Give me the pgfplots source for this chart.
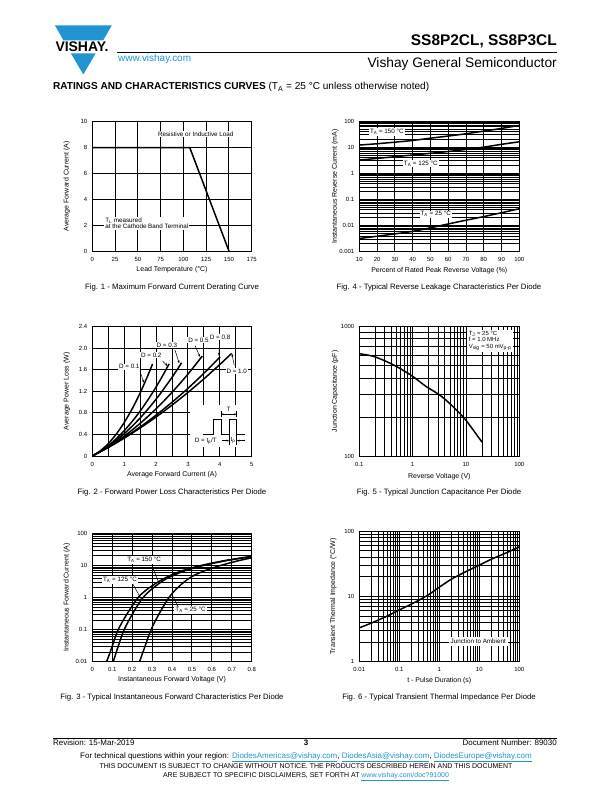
\documentclass[border=0pt]{standalone}
\usepackage{fontspec}
\setmainfont{Liberation Sans}
\usepackage{pgfplots}
\pgfplotsset{compat=1.18}
\usetikzlibrary{arrows.meta}
\definecolor{vblue}{RGB}{35,148,210}
\newcommand{\lk}[1]{\textcolor{vblue}{\underline{#1}}}
\newcommand{\lblfont}{\fontsize{7}{8}\selectfont}
\pgfplotsset{
  ds/.style={
    scale only axis, anchor=south west,
    axis line style={line width=0.9pt},
    xmajorgrids, ymajorgrids,
    major grid style={line width=0.9pt,black},
    minor grid style={line width=0.7pt,black},
    major tick length=0pt, minor tick length=0pt,
    tick style={draw=none},
    ticklabel style={font=\fontsize{6}{7}\selectfont},
    xticklabel shift=2.5bp,
    yticklabel shift=1.5bp,
    every axis x label/.style={at={(axis description cs:0.5,-0.142)},anchor=center,font=\lblfont},
    every axis y label/.style={at={(axis description cs:-0.16,0.5)},anchor=center,rotate=90,font=\lblfont},
  },
  crv/.style={line width=1.5pt, black, no marks, smooth},
}
\tikzset{lbl/.style={fill=white, inner sep=1pt, font=\fontsize{6.3}{6.8}\selectfont},
  ldr/.style={line width=0.5pt,-{Stealth[length=3bp,width=2.2bp]}},
  figcap/.style={anchor=base, inner sep=0pt, font=\fontsize{7.8}{9}\selectfont}}
\begin{document}
\begin{tikzpicture}
\fill[white] (0,0) rectangle (612bp,792bp);
\path[use as bounding box] (0,0) rectangle (612bp,792bp);
% ---------- header ----------
\fill[vblue] (55bp,766.5bp) -- (111.7bp,766.5bp) -- (103.2bp,751.7bp) -- (63.4bp,751.7bp) -- cycle;
\fill[vblue] (71bp,738.5bp) -- (95.6bp,738.5bp) -- (83.3bp,717.5bp) -- cycle;
\node[font=\fontsize{14}{14}\bfseries\selectfont, inner sep=0pt] at (82bp,745.5bp) {VISHAY.};
\draw[line width=0.8pt] (117bp,739.7bp) -- (557bp,739.7bp);
\node[anchor=base west, inner sep=0pt, font=\fontsize{10}{11}\selectfont, text=vblue] at (118bp,730bp) {www.vishay.com};
\node[anchor=base east, inner sep=0pt, font=\fontsize{15.5}{16}\bfseries\selectfont] at (557bp,746bp) {SS8P2CL, SS8P3CL};
\node[anchor=base east, inner sep=0pt, font=\fontsize{13.8}{15}\selectfont] at (557bp,724bp) {Vishay General Semiconductor};
\node[anchor=base west, inner sep=0pt, font=\fontsize{10.1}{11}\selectfont] at (53bp,702bp) {\textbf{RATINGS AND CHARACTERISTICS CURVES} (T\textsubscript{A} = 25 °C unless otherwise noted)};
% ---------- footer ----------
\draw[line width=0.8pt] (53bp,54bp) -- (557bp,54bp);
\node[anchor=base west, inner sep=0pt, font=\fontsize{8}{9}\selectfont] at (53bp,46bp) {Revision: 15-Mar-2019};
\node[anchor=base, inner sep=0pt, font=\fontsize{8}{9}\bfseries\selectfont] at (306bp,46bp) {3};
\node[anchor=base east, inner sep=0pt, font=\fontsize{8}{9}\selectfont] at (557bp,46bp) {Document Number: 89030};
\node[anchor=base, inner sep=0pt, font=\fontsize{8}{9}\selectfont] at (306bp,34bp) {For technical questions within your region: \lk{DiodesAmericas@vishay.com}, \lk{DiodesAsia@vishay.com}, \lk{DiodesEurope@vishay.com}};
\node[anchor=base, inner sep=0pt, font=\fontsize{7}{8}\selectfont] at (306bp,24bp) {THIS DOCUMENT IS SUBJECT TO CHANGE WITHOUT NOTICE. THE PRODUCTS DESCRIBED HEREIN AND THIS DOCUMENT};
\node[anchor=base, inner sep=0pt, font=\fontsize{7}{8}\selectfont] at (306bp,15bp) {ARE SUBJECT TO SPECIFIC DISCLAIMERS, SET FORTH AT \lk{www.vishay.com/doc?91000}};
% ---------- captions ----------
\node[figcap] at (172bp,502bp) {Fig. 1 -  Maximum Forward Current Derating Curve};
\node[figcap] at (439bp,502bp) {Fig. 4 - Typical Reverse Leakage Characteristics Per Diode};
\node[figcap] at (172bp,297bp) {Fig. 2 - Forward Power Loss Characteristics Per Diode};
\node[figcap] at (439bp,297bp) {Fig. 5 - Typical Junction Capacitance Per Diode};
\node[figcap] at (172bp,92bp) {Fig. 3 - Typical Instantaneous Forward Characteristics Per Diode};
\node[figcap] at (439bp,92bp) {Fig. 6 - Typical Transient Thermal Impedance Per Diode};

% ---------- Fig 1 ----------
\begin{axis}[ds, at={(92.3bp,541bp)}, width=159.4bp, height=129.3bp,
  xmin=0, xmax=175, ymin=0, ymax=10,
  xtick={0,25,50,75,100,125,150,175}, xticklabels={0,25,50,75,100,125,150,175},
  ytick={0,2,4,6,8,10}, yticklabels={0,2,4,6,8,10},
  xlabel={Lead Temperature (°C)}, ylabel={Average Forward Current (A)}]
\addplot[line width=1.5pt, black, no marks] coordinates {(0,8) (107,8) (150,0)};
\node[lbl] at (axis cs:113.5,9.05) {Resistive or Inductive Load};
\node[lbl, align=left, anchor=west] at (axis cs:13,2.15) {T\textsubscript{L} measured\\at the Cathode Band Terminal};
\end{axis}

% ---------- Fig 4 ----------
\begin{axis}[ds, at={(359.3bp,540.3bp)}, width=160bp, height=130.7bp,
  ymode=log, xmin=10, xmax=100, ymin=0.001, ymax=100,
  every axis y label/.style={at={(axis description cs:-0.152,0.5)},anchor=center,rotate=90,font=\lblfont},
  xtick={10,20,30,40,50,60,70,80,90,100}, xticklabels={10,20,30,40,50,60,70,80,90,100},
  ytick={0.001,0.01,0.1,1,10,100}, yticklabels={0.001,0.01,0.1,1,10,100},
  minor ytick={0.002,0.003,0.004,0.005,0.006,0.007,0.008,0.009,0.02,0.03,0.04,0.05,0.06,0.07,0.08,0.09,0.2,0.3,0.4,0.5,0.6,0.7,0.8,0.9,2,3,4,5,6,7,8,9,20,30,40,50,60,70,80,90},
  yminorgrids,
  xlabel={Percent of Rated Peak Reverse Voltage (\%)}, ylabel={Instantaneous Reverse Current (mA)}]
\addplot[crv] coordinates {(10,12) (20,13.5) (30,15.5) (40,18) (50,22) (60,26.5) (70,32.5) (80,41) (90,52) (100,68)};
\addplot[crv] coordinates {(10,3.2) (20,3.7) (30,4.3) (40,5.0) (50,5.8) (60,6.8) (70,8.2) (80,10) (90,12.8) (100,16)};
\addplot[crv] coordinates {(10,0.0032) (20,0.0039) (30,0.0048) (40,0.006) (50,0.0082) (60,0.0115) (70,0.016) (80,0.022) (90,0.031) (100,0.044)};
\node[lbl] at (axis cs:25.5,38) {T\textsubscript{A} = 150 °C};
\node[lbl] at (axis cs:44.6,2.4) {T\textsubscript{A} = 125 °C};
\node[lbl] at (axis cs:53,0.027) {T\textsubscript{A} = 25 °C};
\end{axis}

% ---------- Fig 2 ----------
\begin{axis}[ds, at={(92.3bp,336bp)}, width=159.4bp, height=129.3bp,
  xmin=0, xmax=5, ymin=0, ymax=2.4,
  xtick={0,1,2,3,4,5}, xticklabels={0,1,2,3,4,5},
  minor xtick={0.5,1.5,2.5,3.5,4.5}, xminorgrids,
  minor grid style={line width=0.9pt,black},
  ytick={0,0.4,0.8,1.2,1.6,2.0,2.4}, yticklabels={0,0.4,0.8,1.2,1.6,2.0,2.4},
  xlabel={Average Forward Current (A)}, ylabel={Average Power Loss (W)}]
\addplot[crv] coordinates {(0,0) (0.25,0.095) (0.5,0.23) (0.75,0.405) (1,0.62) (1.25,0.875) (1.5,1.17) (1.75,1.505) (1.89,1.71)};
\addplot[crv] coordinates {(0,0) (0.25,0.086) (0.5,0.193) (0.75,0.321) (1,0.47) (1.25,0.641) (1.5,0.833) (1.75,1.046) (2,1.28) (2.2,1.483) (2.41,1.71)};
\addplot[crv] coordinates {(0,0) (0.5,0.178) (1,0.414) (1.5,0.705) (2,1.054) (2.5,1.459) (2.8,1.73)};
\addplot[crv] coordinates {(0,0) (0.5,0.167) (1,0.369) (1.5,0.605) (2,0.876) (2.5,1.181) (3,1.52) (3.45,1.855)};
\addplot[crv] coordinates {(0,0) (0.5,0.16) (1,0.34) (1.5,0.539) (2,0.758) (2.5,0.998) (3,1.256) (3.5,1.535) (4.01,1.84)};
\addplot[crv] coordinates {(0,0) (0.5,0.158) (1,0.331) (1.5,0.52) (2,0.724) (2.5,0.944) (3,1.18) (3.5,1.431) (4,1.698) (4.37,1.905)};
\fill[white] (axis cs:3.05,0.17) rectangle (axis cs:4.97,0.95);
\node[lbl] at (axis cs:1.16,1.657) {D = 0.1};
\draw[ldr] (axis cs:1.50,1.565) -- (axis cs:1.62,1.36);
\node[lbl] at (axis cs:1.85,1.87) {D = 0.2};
\draw[ldr] (axis cs:2.21,1.76) -- (axis cs:2.36,1.67);
\node[lbl] at (axis cs:2.34,2.06) {D = 0.3};
\draw[ldr] (axis cs:2.59,1.97) -- (axis cs:2.73,1.72);
\node[lbl] at (axis cs:3.33,2.15) {D = 0.5};
\draw[ldr] (axis cs:3.22,2.05) -- (axis cs:3.38,1.84);
\node[lbl] at (axis cs:4.01,2.21) {D = 0.8};
\draw[ldr] (axis cs:3.99,2.12) -- (axis cs:3.97,1.86);
\node[lbl] at (axis cs:4.53,1.577) {D = 1.0};
\draw[ldr] (axis cs:4.45,1.69) -- (axis cs:4.38,1.90);
% pulse inset
\draw[line width=0.8pt] (axis cs:3.48,0.403) -- (axis cs:3.795,0.403) -- (axis cs:3.795,0.678) -- (axis cs:4.037,0.678) -- (axis cs:4.037,0.403) -- (axis cs:4.297,0.403) -- (axis cs:4.297,0.678) -- (axis cs:4.53,0.678) -- (axis cs:4.53,0.403) -- (axis cs:4.805,0.403);
\draw[line width=0.5pt] (axis cs:4.037,0.72) -- (axis cs:4.037,0.84);
\draw[line width=0.5pt] (axis cs:4.53,0.72) -- (axis cs:4.53,0.84);
\draw[line width=0.5pt,{Stealth[length=2.5bp,width=2bp]}-{Stealth[length=2.5bp,width=2bp]}] (axis cs:4.04,0.775) -- (axis cs:4.527,0.775);
\node[font=\fontsize{6.3}{7}\selectfont, inner sep=0pt] at (axis cs:4.28,0.875) {T};
\node[font=\fontsize{6.3}{7}\selectfont, inner sep=0pt] at (axis cs:3.56,0.284) {D = t\textsubscript{p}/T};
\draw[line width=0.5pt] (axis cs:4.297,0.40) -- (axis cs:4.297,0.2);
\draw[line width=0.5pt] (axis cs:4.53,0.40) -- (axis cs:4.53,0.2);
\draw[line width=0.5pt,-{Stealth[length=2.5bp,width=2bp]}] (axis cs:4.07,0.285) -- (axis cs:4.29,0.285);
\draw[line width=0.5pt,-{Stealth[length=2.5bp,width=2bp]}] (axis cs:4.79,0.285) -- (axis cs:4.537,0.285);
\node[font=\fontsize{6.3}{7}\selectfont, inner sep=0pt] at (axis cs:4.41,0.28) {t\textsubscript{p}};
\end{axis}

% ---------- Fig 5 ----------
\begin{axis}[ds, at={(359.3bp,335.3bp)}, width=160bp, height=130.7bp,
  xmode=log, ymode=log, xmin=0.1, xmax=100, ymin=100, ymax=1000,
  every axis y label/.style={at={(axis description cs:-0.152,0.5)},anchor=center,rotate=90,font=\lblfont},
  every axis x label/.style={at={(axis description cs:0.5,-0.153)},anchor=center,font=\lblfont},
  xtick={0.1,1,10,100}, xticklabels={0.1,1,10,100},
  ytick={100,1000}, yticklabels={100,1000},
  minor xtick={0.2,0.3,0.4,0.5,0.6,0.7,0.8,0.9,2,3,4,5,6,7,8,9,20,30,40,50,60,70,80,90},
  minor ytick={200,300,400,500,600,700,800,900},
  xminorgrids, yminorgrids,
  xlabel={Reverse Voltage (V)}, ylabel={Junction Capacitance (pF)}]
\addplot[crv] coordinates {(0.1,614) (0.178,588) (0.316,537) (0.56,477) (1,412) (1.78,345) (3.16,298) (4.87,257) (6.5,229) (10,190) (20,129)};
\node[lbl, align=left, anchor=north west, inner sep=1.5pt, font=\fontsize{6}{6.4}\selectfont] at (axis cs:10.5,940) {T\textsubscript{J} = 25 °C\\f = 1.0 MHz\\V\textsubscript{sig} = 50 mV\textsubscript{p-p}};
\end{axis}

% ---------- Fig 3 ----------
\begin{axis}[ds, at={(92.3bp,130.3bp)}, width=159.4bp, height=128.4bp,
  ymode=log, xmin=0, xmax=0.8, ymin=0.01, ymax=100,
  xtick={0,0.1,0.2,0.3,0.4,0.5,0.6,0.7,0.8}, xticklabels={0,0.1,0.2,0.3,0.4,0.5,0.6,0.7,0.8},
  ytick={0.01,0.1,1,10,100}, yticklabels={0.01,0.1,1,10,100},
  minor ytick={0.02,0.03,0.04,0.05,0.06,0.07,0.08,0.09,0.2,0.3,0.4,0.5,0.6,0.7,0.8,0.9,2,3,4,5,6,7,8,9,20,30,40,50,60,70,80,90},
  yminorgrids,
  xlabel={Instantaneous Forward Voltage (V)}, ylabel={Instantaneous Forward Current (A)}]
\addplot[crv] coordinates {(0.072,0.01) (0.10,0.03) (0.13,0.1) (0.18,0.35) (0.23,1.0) (0.27,1.7) (0.32,2.8) (0.37,4.2) (0.42,5.8) (0.47,7.4) (0.53,9.4) (0.6,11.8) (0.67,14.3) (0.74,16.8) (0.8,19)};
\addplot[crv] coordinates {(0.105,0.01) (0.13,0.03) (0.16,0.1) (0.21,0.38) (0.255,1.0) (0.29,1.65) (0.33,2.6) (0.37,3.8) (0.42,5.3) (0.47,7.0) (0.53,9.0) (0.6,11.4) (0.67,14) (0.74,16.5) (0.8,18.6)};
\addplot[crv] coordinates {(0.237,0.01) (0.26,0.025) (0.295,0.1) (0.34,0.35) (0.385,1.0) (0.42,1.8) (0.46,3.0) (0.5,4.5) (0.55,6.3) (0.6,8.2) (0.65,10.2) (0.7,12.4) (0.75,14.8) (0.8,17.2)};
\node[lbl] at (axis cs:0.26,14.7) {T\textsubscript{A} = 150 °C};
\node[lbl] at (axis cs:0.139,3.5) {T\textsubscript{A} = 125 °C};
\node[lbl] at (axis cs:0.493,0.407) {T\textsubscript{A} = 25 °C};
\draw[line width=0.5pt] (axis cs:0.298,10.3) -- (axis cs:0.33,3.3);
\draw[line width=0.5pt] (axis cs:0.203,2.63) -- (axis cs:0.248,0.85);
\draw[line width=0.5pt] (axis cs:0.43,0.52) -- (axis cs:0.40,1.25);
\end{axis}

% ---------- Fig 6 ----------
\begin{axis}[ds, at={(359.3bp,130.3bp)}, width=160bp, height=130.7bp,
  xmode=log, ymode=log, xmin=0.01, xmax=100, ymin=1, ymax=100,
  every axis y label/.style={at={(axis description cs:-0.163,0.5)},anchor=center,rotate=90,font=\lblfont},
  xtick={0.01,0.1,1,10,100}, xticklabels={0.01,0.1,1,10,100},
  ytick={1,10,100}, yticklabels={1,10,100},
  minor xtick={0.02,0.03,0.04,0.05,0.06,0.07,0.08,0.09,0.2,0.3,0.4,0.5,0.6,0.7,0.8,0.9,2,3,4,5,6,7,8,9,20,30,40,50,60,70,80,90},
  minor ytick={2,3,4,5,6,7,8,9,20,30,40,50,60,70,80,90},
  xminorgrids, yminorgrids,
  xlabel={t - Pulse Duration (s)}, ylabel={Transient Thermal Impedance (°C/W)}]
\addplot[crv] coordinates {(0.01,3.3) (0.02,3.9) (0.05,5.0) (0.1,6.2) (0.2,7.6) (0.5,10.3) (1,13.8) (2,18.3) (5,24.5) (10,30) (20,37) (50,47) (100,57)};
\node[lbl, inner sep=2pt] at (axis cs:9.4,2.02) {Junction to Ambient};
\end{axis}
\end{tikzpicture}
\end{document}
